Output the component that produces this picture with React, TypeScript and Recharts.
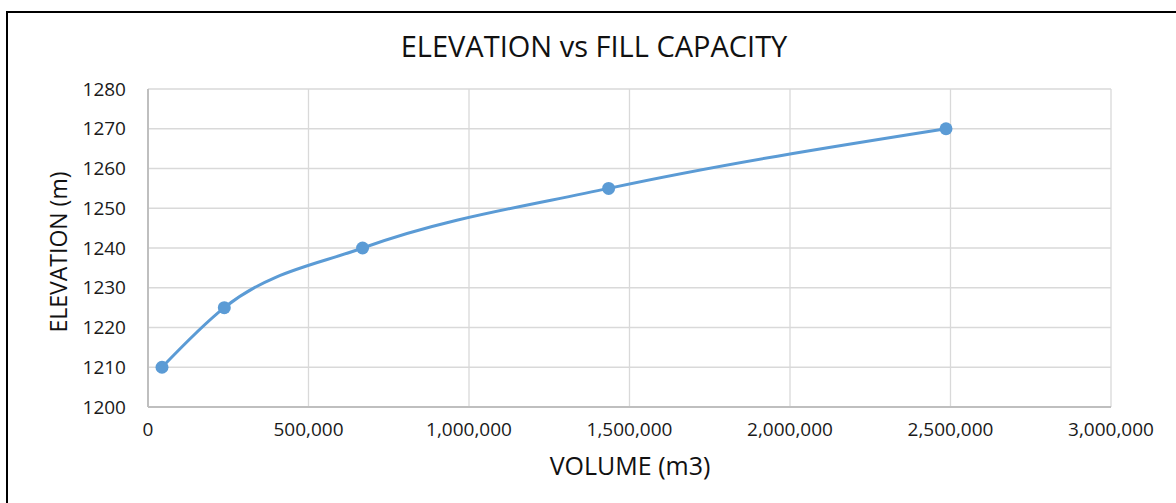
import React from 'react';
import { LineChart, Line, XAxis, YAxis, CartesianGrid } from 'recharts';

const volumes = [43600, 237700, 668500, 1435000, 2486000];
const elevations = [1210, 1225, 1240, 1255, 1270];
const xTicks = [0, 500000, 1000000, 1500000, 2000000, 2500000, 3000000];
const yTicks = [1200, 1210, 1220, 1230, 1240, 1250, 1260, 1270, 1280];
const title = 'ELEVATION vs FILL CAPACITY';
const xTitle = 'VOLUME (m3)';
const yTitle = 'ELEVATION (m)';

const data = volumes.map((v, i) => ({ volume: v, elevation: elevations[i] }));

const FONT = '"Open Sans", sans-serif';
const fmt = (v: number) => v.toLocaleString('en-US');

export default function App() {
  return (
    <div style={{ position: 'absolute', left: 0, top: 0, width: 1176, height: 503, background: '#fff', overflow: 'hidden' }}>
      <div style={{ position: 'absolute', left: 6, top: 11, width: 1180, height: 500, border: '2px solid #000', boxSizing: 'border-box' }} />
      <div style={{ position: 'absolute', left: 0, top: 0 }}>
        <LineChart width={1176} height={503} data={data} margin={{ top: 89, right: 65, bottom: 56, left: 0 }}>
          <CartesianGrid stroke="#D9D9D9" strokeWidth={1.3} vertical={true} horizontal={true} />
          <XAxis
            type="number"
            dataKey="volume"
            domain={[0, 3000000]}
            ticks={xTicks}
            interval={0}
            height={40}
            tickFormatter={fmt}
            tickSize={0}
            tickMargin={16}
            tickLine={false}
            axisLine={{ stroke: '#BFBFBF', strokeWidth: 2 }}
            tick={{ fontFamily: FONT, fontSize: 19, fill: '#1a1a1a' }}
          />
          <YAxis
            type="number"
            domain={[1200, 1280]}
            ticks={yTicks}
            interval={0}
            width={148}
            tickSize={0}
            tickMargin={22}
            tickLine={false}
            axisLine={{ stroke: '#BFBFBF', strokeWidth: 2 }}
            tick={{ fontFamily: FONT, fontSize: 19, fill: '#1a1a1a' }}
          />
          <Line
            type="monotone"
            dataKey="elevation"
            stroke="#5B9BD5"
            strokeWidth={3}
            dot={{ r: 6.5, fill: '#5B9BD5', stroke: '#5B9BD5', strokeWidth: 0 }}
            activeDot={false}
            isAnimationActive={false}
          />
        </LineChart>
      </div>
      <svg width={1176} height={503} style={{ position: 'absolute', left: 0, top: 0, pointerEvents: 'none' }}>
        <text x={594} y={57} textAnchor="middle" fontFamily={FONT} fontSize={29} fill="#111">{title}</text>
        <text x={630} y={475} textAnchor="middle" fontFamily={FONT} fontSize={25} fill="#111">{xTitle}</text>
        <text x={67} y={252} textAnchor="middle" fontFamily={FONT} fontSize={23} fill="#111" transform="rotate(-90, 67, 252)">{yTitle}</text>
      </svg>
    </div>
  );
}
